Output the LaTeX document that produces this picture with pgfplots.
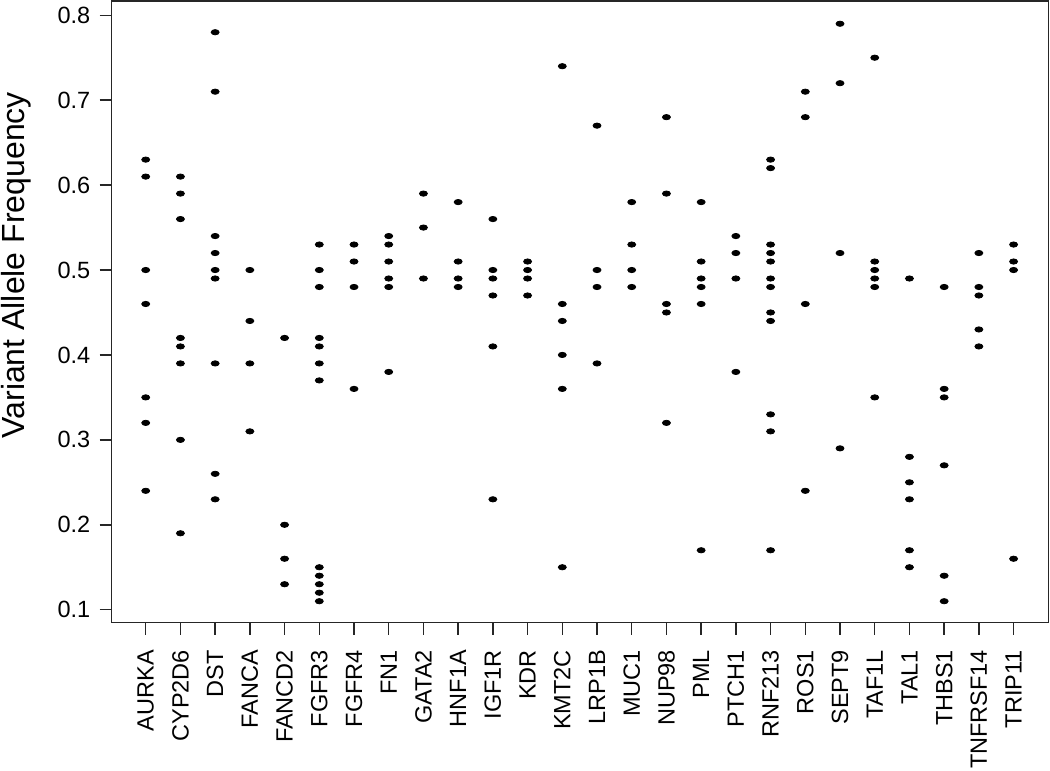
\documentclass[border=0pt]{standalone}
\usepackage{pgfplots}
\pgfplotsset{compat=1.18}
\usepackage{fontspec}
\setmainfont{Liberation Sans}
\begin{document}
\begin{tikzpicture}
\begin{axis}[
  name=ax,
  scale only axis,
  width=468.3pt, height=310.85pt,
  xmin=-0.98, xmax=26.0,
  ymin=0.0847, ymax=0.8168,
  axis line style={line width=0.75pt, black!85},
  tick style={line width=0.75pt, black!85},
  tick align=outside,
  xtick pos=lower, ytick pos=left,
  major tick length=6pt,
  xtick={0,...,25},
  xticklabels={AURKA,CYP2D6,DST,FANCA,FANCD2,FGFR3,FGFR4,FN1,GATA2,HNF1A,IGF1R,KDR,KMT2C,LRP1B,MUC1,NUP98,PML,PTCH1,RNF213,ROS1,SEPT9,TAF1L,TAL1,THBS1,TNFRSF14,TRIP11},
  xticklabel style={rotate=90, anchor=east, font=\fontsize{11.75pt}{13pt}\selectfont, inner sep=0pt, xshift=-7.5pt},
  ytick={0.1,0.2,0.3,0.4,0.5,0.6,0.7,0.8},
  yticklabels={0.1,0.2,0.3,0.4,0.5,0.6,0.7,0.8},
  yticklabel style={font=\fontsize{11.75pt}{13pt}\selectfont, inner sep=0pt, xshift=-4.5pt},
  ylabel={Variant Allele Frequency},
  ylabel style={font=\fontsize{16pt}{18pt}\selectfont, at={(axis description cs:-0.0936,0.575)}, anchor=base},
]
\addplot[only marks, mark=*, mark size=2pt, mark options={draw=none, fill=black, yscale=0.66}] table[row sep=\\] {
x y\\
0 0.63\\ 0 0.61\\ 0 0.50\\ 0 0.46\\ 0 0.35\\ 0 0.32\\ 0 0.24\\
1 0.61\\ 1 0.59\\ 1 0.56\\ 1 0.42\\ 1 0.41\\ 1 0.39\\ 1 0.30\\ 1 0.19\\
2 0.78\\ 2 0.71\\ 2 0.54\\ 2 0.52\\ 2 0.50\\ 2 0.49\\ 2 0.39\\ 2 0.26\\ 2 0.23\\
3 0.50\\ 3 0.44\\ 3 0.39\\ 3 0.31\\
4 0.42\\ 4 0.20\\ 4 0.16\\ 4 0.13\\
5 0.53\\ 5 0.50\\ 5 0.48\\ 5 0.42\\ 5 0.41\\ 5 0.39\\ 5 0.37\\ 5 0.15\\ 5 0.14\\ 5 0.13\\ 5 0.12\\ 5 0.11\\
6 0.53\\ 6 0.51\\ 6 0.48\\ 6 0.36\\
7 0.54\\ 7 0.53\\ 7 0.51\\ 7 0.49\\ 7 0.48\\ 7 0.38\\
8 0.59\\ 8 0.55\\ 8 0.49\\
9 0.58\\ 9 0.51\\ 9 0.49\\ 9 0.48\\
10 0.56\\ 10 0.50\\ 10 0.49\\ 10 0.47\\ 10 0.41\\ 10 0.23\\
11 0.51\\ 11 0.50\\ 11 0.49\\ 11 0.47\\
12 0.74\\ 12 0.46\\ 12 0.44\\ 12 0.40\\ 12 0.36\\ 12 0.15\\
13 0.67\\ 13 0.50\\ 13 0.48\\ 13 0.39\\
14 0.58\\ 14 0.53\\ 14 0.50\\ 14 0.48\\
15 0.68\\ 15 0.59\\ 15 0.46\\ 15 0.45\\ 15 0.32\\
16 0.58\\ 16 0.51\\ 16 0.49\\ 16 0.48\\ 16 0.46\\ 16 0.17\\
17 0.54\\ 17 0.52\\ 17 0.49\\ 17 0.38\\
18 0.63\\ 18 0.62\\ 18 0.53\\ 18 0.52\\ 18 0.51\\ 18 0.49\\ 18 0.48\\ 18 0.45\\ 18 0.44\\ 18 0.33\\ 18 0.31\\ 18 0.17\\
19 0.71\\ 19 0.68\\ 19 0.46\\ 19 0.24\\
20 0.79\\ 20 0.72\\ 20 0.52\\ 20 0.29\\
21 0.75\\ 21 0.51\\ 21 0.50\\ 21 0.49\\ 21 0.48\\ 21 0.35\\
22 0.49\\ 22 0.28\\ 22 0.25\\ 22 0.23\\ 22 0.17\\ 22 0.15\\
23 0.48\\ 23 0.36\\ 23 0.35\\ 23 0.27\\ 23 0.14\\ 23 0.11\\
24 0.52\\ 24 0.48\\ 24 0.47\\ 24 0.43\\ 24 0.41\\
25 0.53\\ 25 0.51\\ 25 0.50\\ 25 0.16\\
};
\end{axis}
\pgfresetboundingbox
\path[use as bounding box] ([xshift=-55.85pt,yshift=-74.15pt]ax.south west) rectangle ([xshift=0.85pt,yshift=0.5pt]ax.north east);
\end{tikzpicture}
\end{document}
